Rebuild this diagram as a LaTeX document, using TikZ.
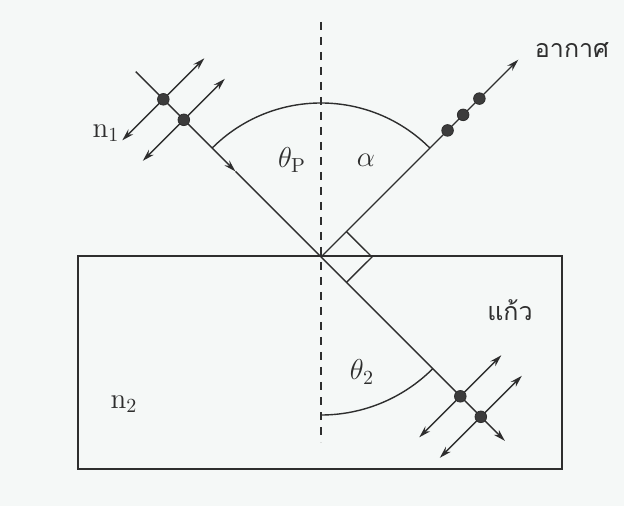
\documentclass[tikz,border=0pt]{standalone}
\usepackage{fontspec}
\newfontfamily\thaifont[Script=Thai]{Loma}
\usepackage{xcolor}
\definecolor{cPaper}{HTML}{F5F8F7}
\definecolor{cInk}  {HTML}{2E2E2E}
\definecolor{cDot}  {HTML}{3C3C3C}
\usepackage{tikz}
\usetikzlibrary{arrows.meta, calc}
\tikzset{
  ray/.style    = {draw=cInk, line width=0.7pt},
  arr/.style    = {ray, -{Stealth[length=6pt,width=3.5pt]}},
  darr/.style   = {ray, {Stealth[length=6pt,width=3.5pt]}-{Stealth[length=6pt,width=3.5pt]}},
  normal/.style = {draw=cInk, line width=0.6pt, dash pattern=on 4pt off 3.5pt},
  dot/.style    = {circle, fill=cDot, draw=cInk, inner sep=0pt, minimum size=5.8pt},
  lbl/.style    = {font=\fontsize{14.5}{17}\selectfont, text=cInk},
  thai/.style   = {font=\thaifont\fontsize{12.5}{15}\selectfont, text=cInk},
}

\begin{document}
\begin{tikzpicture}[x=0.5pt, y=0.5pt]
  \useasboundingbox[fill=cPaper] (0,0) rectangle (624,-506);

  % glass block and normal
  \coordinate (O) at (321,-257);
  \draw[ray] (78,-256) rectangle (562,-469);
  \draw[normal] (321,-22) -- (321,-442);

  % rays
  \coordinate (src)   at ($(O)+(135:262)$);
  \coordinate (mid)   at ($(O)+(135:121)$);
  \coordinate (refl)  at ($(O)+(45:279)$);
  \coordinate (trans) at ($(O)+(-45:260)$);
  \draw[arr] (src) -- (mid);
  \draw[ray] (mid) -- (O);
  \draw[arr] (O) -- (refl);
  \draw[arr] (O) -- (trans);

  % angles
  \draw[ray] (O) ++(45:154) arc[start angle=45, end angle=135, radius=154];
  \draw[ray] (O) ++(-90:158) arc[start angle=-90, end angle=-45, radius=158];
  \draw[ray] ($(O)+(45:36)$) -- ($(O)+(0:51)$) -- ($(O)+(-45:36)$);

  % polarisation
  \coordinate (p1) at ($(O)+(135:223)$);
  \coordinate (p2) at ($(O)+(135:194)$);
  \coordinate (t1) at ($(O)+(-45:197)$);
  \coordinate (t2) at ($(O)+(-45:226)$);
  \foreach \p in {p1,p2,t1,t2}
    \draw[darr] ($(\p)+(225:58)$) -- ($(\p)+(45:58)$);
  \foreach \p in {p1,p2,t1,t2}
    \node[dot] at (\p) {};
  \node[dot] (q1) at ($(O)+(45:179)$) {};
  \node[dot] (q2) at ($(O)+(45:201)$) {};
  \node[dot] (q3) at ($(O)+(45:224)$) {};

  % labels
  \node[lbl] (n1)  at (106,-133) {n$_1$};
  \node[lbl] (n2)  at (124,-404) {n$_2$};
  \node[lbl] (thp) at (292,-160) {$\theta_{\mathrm{P}}$};
  \node[lbl] (al)  at (366,-160) {$\alpha$};
  \node[lbl] (th2) at (362,-372) {$\theta_2$};
  \node[thai] (air)   at (572,-50)  {อากาศ};
  \node[thai] (glass) at (510,-310) {แก้ว};
\end{tikzpicture}
\end{document}
